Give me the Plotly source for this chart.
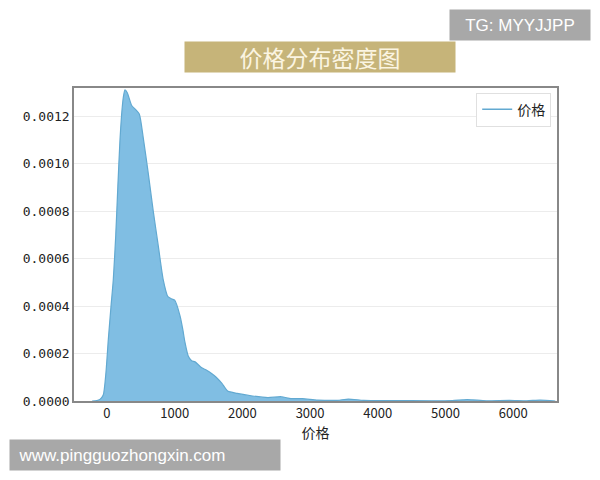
import plotly.graph_objects as go

price = [-220, -150, -100, -55, -15, 20, 60, 93, 130, 160, 192, 217, 241, 266, 300, 365, 420, 477,
         536, 610, 684, 760, 832, 900, 960, 1000, 1078, 1121, 1150, 1200, 1250, 1302, 1400, 1472,
         1550, 1613, 1698, 1783, 1924, 2150, 2377, 2575, 2717, 2887, 3113, 3400, 3566, 3792, 4200,
         4800, 5100, 5320, 5600, 5943, 6200, 6396, 6622]
density = [0, 0.000002, 0.000008, 0.000025, 0.00012, 0.00026, 0.0004, 0.00051, 0.0007, 0.0009,
           0.0011, 0.00121, 0.00128, 0.001312, 0.0013, 0.001246, 0.00123, 0.00121, 0.00111, 0.00096,
           0.0008, 0.00065, 0.00051, 0.00044, 0.00043, 0.000425, 0.00036, 0.0003, 0.00025, 0.00019,
           0.00017, 0.000165, 0.00014, 0.00013, 0.000115, 0.0001, 0.000074, 0.000042, 0.000032,
           0.000021, 0.000014, 0.000018, 0.00001, 0.00001, 0.000004, 0.000003, 0.000008, 0.000003,
           0.000002, 0.000001, 0.000002, 0.000006, 0.000001, 0.000003, 0.000001, 0.000004, 0]
y_ticks = [0, 0.0002, 0.0004, 0.0006, 0.0008, 0.0010, 0.0012]
x_ticks = [0, 1000, 2000, 3000, 4000, 5000, 6000]

FONT = "Noto Sans CJK SC"
LINE = "#62a9d1"

fig = go.Figure()
fig.add_trace(go.Scatter(
    x=price, y=density, name="价格", mode="lines", showlegend=False,
    line=dict(color=LINE, width=1.2, shape="spline", smoothing=0.6),
    fill="tozeroy", fillcolor="#80bee3",
))
fig.add_trace(go.Scatter(x=[None], y=[None], name="价格", mode="lines",
                         line=dict(color=LINE, width=1.5), showlegend=True))

OFF = 8  # page body margin
FW, FH = 592, 472
L, R, T, B = 74 - OFF, 557 - OFF, 88 - OFF, 401 - OFF
W, H = R - L, B - T

def px(x):
    return (x - OFF - L) / W

def py(y):
    return (B - (y - OFF)) / H

fig.update_layout(
    width=FW, height=FH,
    margin=dict(l=L, r=FW - R, t=T, b=FH - B),
    paper_bgcolor="white", plot_bgcolor="white",
    font=dict(family=FONT, size=13, color="#222"),
    showlegend=True,
    legend=dict(x=0.988, y=0.985, xanchor="right", yanchor="top",
                bordercolor="#e0e0e0", borderwidth=1, bgcolor="white",
                itemwidth=30,
                font=dict(size=14, family=FONT)),
    xaxis=dict(range=[-487, 6647], tickvals=x_ticks, showgrid=False,
               showline=True, linecolor="#888", linewidth=1.5, mirror=True,
               ticks="", zeroline=False,
               tickfont=dict(family=FONT, size=13, color="#222"),
               title=dict(text="价格", font=dict(size=14, family=FONT), standoff=0)),
    yaxis=dict(range=[0, 0.00132], tickvals=y_ticks, tickformat=".4f",
               showgrid=True, gridcolor="#ececec", gridwidth=1,
               showline=True, linecolor="#888", linewidth=1.5, mirror=True,
               ticks="", zeroline=False,
               tickfont=dict(family="DejaVu Sans Mono", size=13, color="#222")),
)

# title box
fig.add_annotation(xref="paper", yref="paper", x=px(320), y=py(57), xanchor="center", yanchor="middle",
                   text="价格分布密度图", showarrow=False, width=270, height=30, borderpad=0,
                   bgcolor="#c6b479", font=dict(size=23, color="#fbf5e2", family=FONT))
# TG watermark
fig.add_annotation(xref="paper", yref="paper", x=px(520), y=py(25), xanchor="center", yanchor="middle",
                   text="TG: MYYJJPP", showarrow=False, width=140, height=30, borderpad=0,
                   bgcolor="#a8a8a8", font=dict(size=17, color="white", family="Liberation Sans"))
# bottom watermark
fig.add_annotation(xref="paper", yref="paper", x=px(145), y=py(455), xanchor="center", yanchor="middle",
                   text="  www.pingguozhongxin.com", showarrow=False, width=270, height=30, borderpad=0,
                   align="left",
                   bgcolor="#a8a8a8", font=dict(size=17, color="white", family="Liberation Sans"))

fig.write_html("out.html")
